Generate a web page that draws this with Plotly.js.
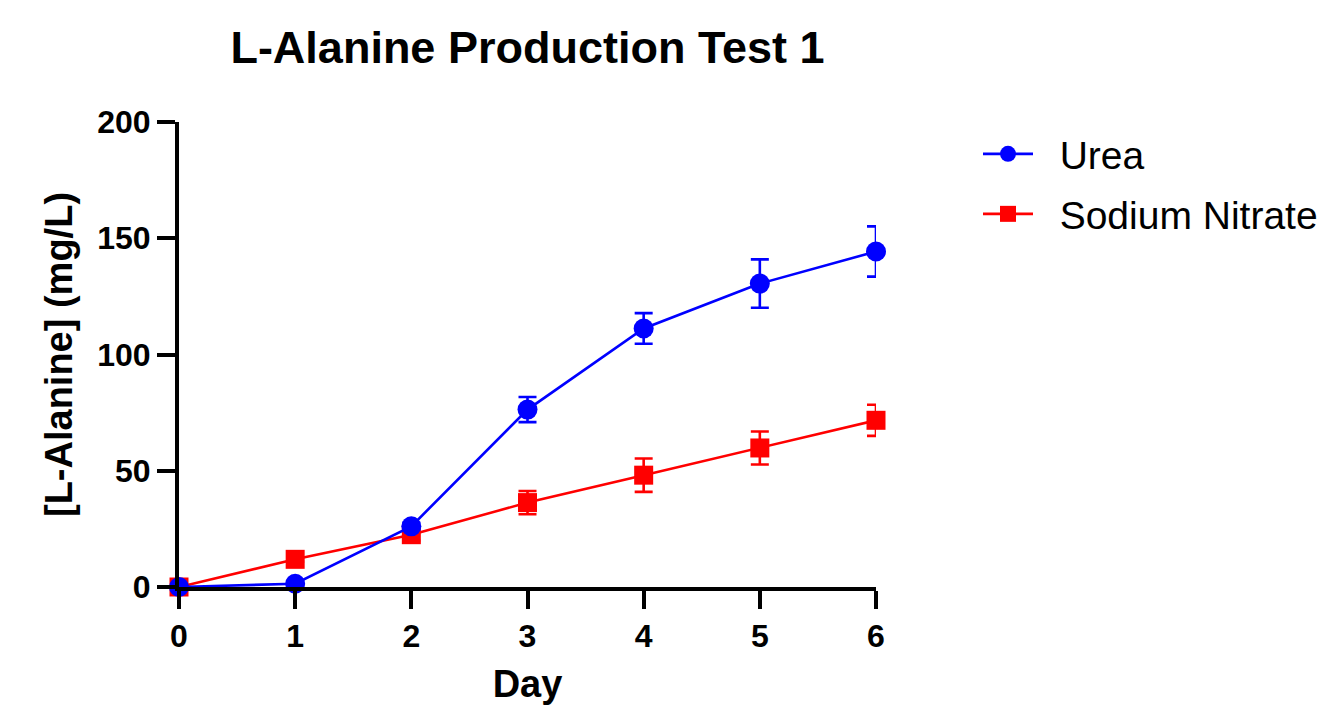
<!DOCTYPE html>
<html>
<head>
<meta charset="utf-8">
<script src="https://cdn.plot.ly/plotly-3.0.1.min.js"></script>
<style>html,body{margin:0;padding:0;background:#fff;}#chart{width:1318px;height:709px;}</style>
</head>
<body>
<div id="chart"></div>
<script>
const days = [0, 1, 2, 3, 4, 5, 6];
const ureaMean = [0, 1.4, 26.1, 76.3, 111.2, 130.5, 144.3];
const ureaErr = [0, 0.5, 1.5, 5.4, 6.6, 10.4, 10.8];
const nitrateMean = [0, 11.9, 22.5, 36.3, 48.1, 59.8, 71.7];
const nitrateErr = [0, 1, 2.5, 5, 7.2, 7.1, 6.7];
const xTicks = [0, 1, 2, 3, 4, 5, 6];
const yTicks = [0, 50, 100, 150, 200];
const seriesNames = ['Urea', 'Sodium Nitrate'];

const FONT = '"Liberation Sans", Arial, Helvetica, sans-serif';
const PAD = '\u00a0\u00a0';

const nitrate = {
  x: days, y: nitrateMean, name: PAD + seriesNames[1], type: 'scatter', mode: 'lines+markers',
  line: {color: '#FF0000', width: 2.6},
  marker: {symbol: 'square', size: 19, color: '#FF0000'},
  error_y: {type: 'data', array: nitrateErr, visible: true, color: '#FF0000', thickness: 2.6, width: 9},
  cliponaxis: false, legend: 'legend2'
};
const urea = {
  x: days, y: ureaMean, name: PAD + seriesNames[0], type: 'scatter', mode: 'lines+markers',
  line: {color: '#0000FF', width: 2.6},
  marker: {symbol: 'circle', size: 20, color: '#0000FF'},
  error_y: {type: 'data', array: ureaErr, visible: true, color: '#0000FF', thickness: 2.6, width: 9},
  cliponaxis: false, legend: 'legend'
};

const legendBase = {
  xref: 'container', yref: 'container', x: 978 / 1318, xanchor: 'left', yanchor: 'middle',
  font: {family: FONT, size: 39, color: '#000'}, bgcolor: 'rgba(0,0,0,0)', borderwidth: 0,
  itemwidth: 50
};

const layout = {
  width: 1318, height: 709,
  margin: {l: 179, r: 442, t: 122, b: 122},
  paper_bgcolor: '#fff', plot_bgcolor: '#fff',
  showlegend: true,
  title: {
    text: 'L-Alanine Production Test 1',
    font: {family: FONT, size: 45, color: '#000', weight: 'bold'},
    x: 0.5, xref: 'paper', xanchor: 'center',
    y: 1 - 47 / 709, yref: 'container', yanchor: 'middle'
  },
  xaxis: {
    range: [0, 6], tickvals: xTicks, ticktext: xTicks.map(String),
    showgrid: false, zeroline: false, showline: true, linecolor: '#000', linewidth: 4,
    ticks: 'outside', ticklen: 18, tickwidth: 4, tickcolor: '#000',
    tickfont: {family: FONT, size: 32, color: '#000', weight: 'bold'},
    title: {text: 'Day', font: {family: FONT, size: 38, color: '#000', weight: 'bold'}, standoff: 18},
    fixedrange: true
  },
  yaxis: {
    range: [0, 200], tickvals: yTicks, ticktext: yTicks.map(String),
    showgrid: false, zeroline: false, showline: true, linecolor: '#000', linewidth: 4,
    ticks: 'outside', ticklen: 18, tickwidth: 4, tickcolor: '#000',
    tickfont: {family: FONT, size: 32, color: '#000', weight: 'bold'},
    title: {text: '[L-Alanine] (mg/L)', font: {family: FONT, size: 38, color: '#000', weight: 'bold'}, standoff: 14},
    fixedrange: true
  },
  legend: Object.assign({}, legendBase, {y: 1 - 154 / 709}),
  legend2: Object.assign({}, legendBase, {y: 1 - 214 / 709})
};

Plotly.newPlot('chart', [nitrate, urea], layout, {displayModeBar: false, staticPlot: true});
</script>
</body>
</html>
